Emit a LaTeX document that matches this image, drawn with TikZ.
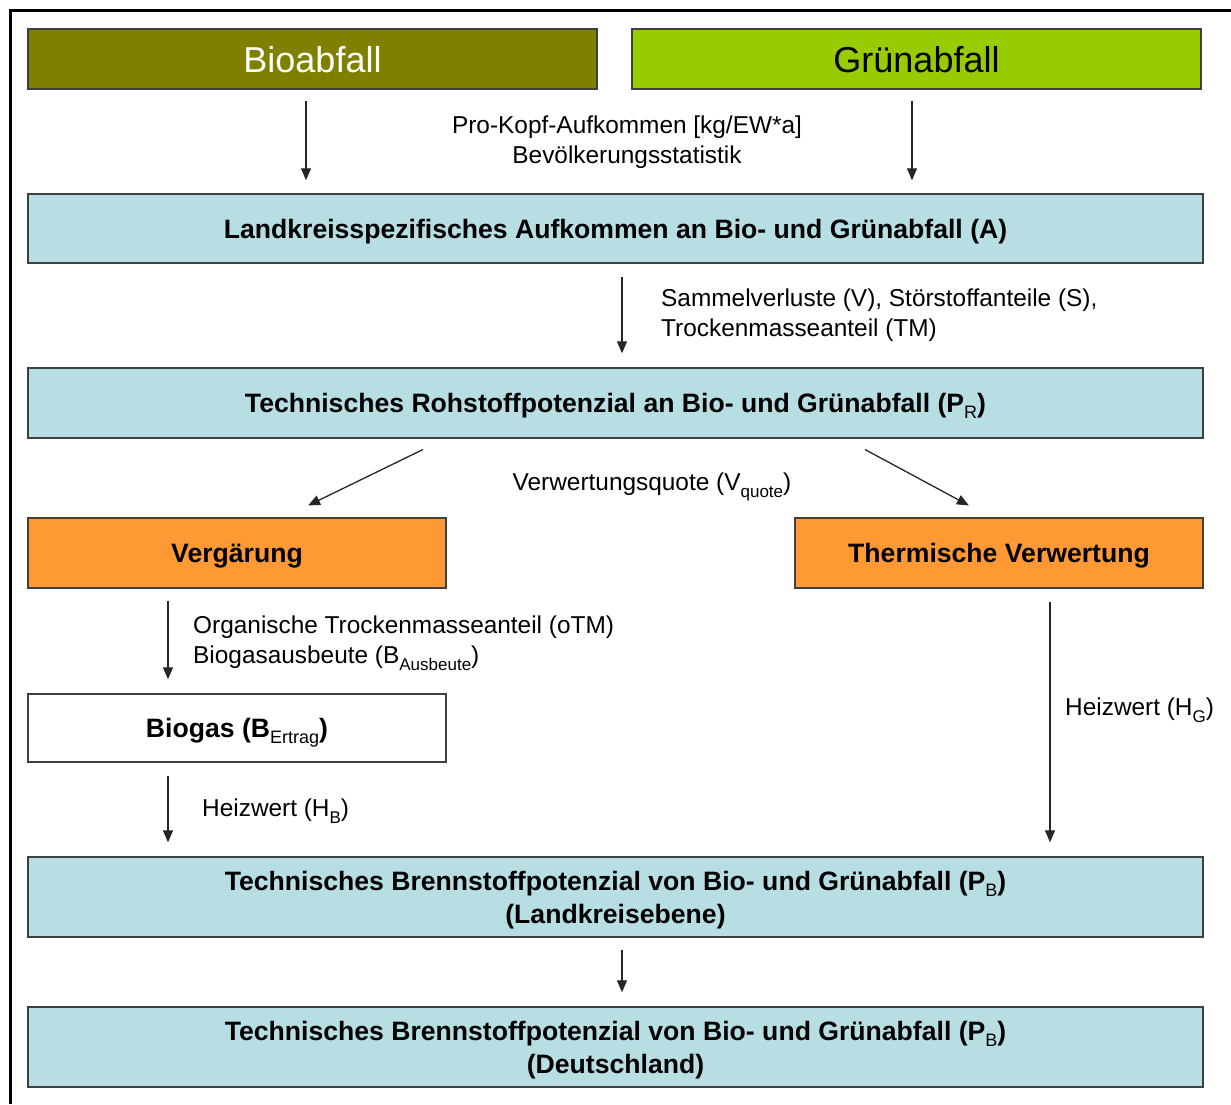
\documentclass[tikz,border=0pt]{standalone}
\usepackage{fontspec}
\setmainfont{Liberation Sans}
\usetikzlibrary{arrows.meta}
\definecolor{olivebox}{HTML}{808000}
\definecolor{greenbox}{HTML}{99CC00}
\definecolor{bluebox}{HTML}{B7DEE3}
\definecolor{orangebox}{HTML}{FF9933}
\definecolor{boxline}{HTML}{404040}
\definecolor{arrline}{HTML}{262626}
\newcommand\lsub[1]{\raisebox{-7pt}{\fontsize{17}{17}\selectfont\mdseries #1}}
\newcommand\bsub[1]{\raisebox{-6pt}{\fontsize{18}{18}\selectfont\mdseries #1}}
\tikzset{
  box/.style={draw=boxline, line width=1.4pt, inner sep=0pt, align=center,
    text depth=0pt, font=\fontsize{26.6}{33}\selectfont\bfseries},
  bigbox/.style={box, minimum width=1175pt},
  topbox/.style={draw=boxline, line width=1.4pt, inner sep=0pt, minimum width=569pt,
    minimum height=60pt, text depth=0pt, font=\fontsize{36}{40}\selectfont},
  lbl/.style={inner sep=0pt, font=\fontsize{24.4}{30}\selectfont},
  arr/.style={-{Triangle[length=12pt,width=10pt]}, line width=1.3pt, draw=arrline},
}
\begin{document}
\begin{tikzpicture}[x=1pt,y=-1pt]
\useasboundingbox (0,0) rectangle (1231,1104);
\draw[line width=3pt] (10,1104) -- (10,10) -- (1231,10);

% boxes
\node[topbox, fill=olivebox, text=white] (bio) at (312.5,59) {Bioabfall};
\node[topbox, fill=greenbox] (gruen) at (916.5,59) {Grünabfall};
\node[bigbox, fill=bluebox, minimum height=69pt] (A) at (615.5,228.5)
  {Landkreisspezifisches Aufkommen an Bio- und Grünabfall (A)};
\node[bigbox, fill=bluebox, minimum height=70pt] (PR) at (615.5,403)
  {Technisches Rohstoffpotenzial an Bio- und Grünabfall (P\bsub{R})};
\node[box, fill=orangebox, minimum width=418pt, minimum height=70pt] (verg) at (237,553)
  {Vergärung};
\node[box, fill=orangebox, minimum width=408pt, minimum height=70pt] (therm) at (999,553)
  {Thermische Verwertung};
\node[box, fill=white, minimum width=418pt, minimum height=68pt] (biogas) at (237,728)
  {Biogas (B\bsub{Ertrag})};
\node[bigbox, fill=bluebox, minimum height=80pt] (PB1) at (615.5,897)
  {Technisches Brennstoffpotenzial von Bio- und Grünabfall (P\bsub{B})\\(Landkreisebene)};
\node[bigbox, fill=bluebox, minimum height=80pt] (PB2) at (615.5,1047)
  {Technisches Brennstoffpotenzial von Bio- und Grünabfall (P\bsub{B})\\(Deutschland)};

% labels
\node[lbl, align=center] (l1) at (627,142)
  {Pro-Kopf-Aufkommen [kg/EW*a]\\Bevölkerungsstatistik};
\node[lbl, align=left, anchor=west] (l2) at (661,315)
  {Sammelverluste (V), Störstoffanteile (S),\\Trockenmasseanteil (TM)};
\node[lbl] (l3) at (652,487) {Verwertungsquote (V\lsub{quote})};
\node[lbl, align=left, anchor=west] (l4) at (193,643.5)
  {Organische Trockenmasseanteil (oTM)\\Biogasausbeute (B\lsub{Ausbeute})};
\node[lbl, anchor=west] (l5) at (202,811) {Heizwert (H\lsub{B})};
\node[lbl, anchor=west] (l6) at (1065,710) {Heizwert (H\lsub{G})};

% helper x positions
\coordinate (x306) at (306,0);
\coordinate (x912) at (912,0);
\coordinate (x622) at (622,0);
\coordinate (x168) at (168,0);
\coordinate (x1050) at (1050,0);
\coordinate (xd1a) at (445.2,0);
\coordinate (xd1b) at (283.8,0);
\coordinate (xd2a) at (844.9,0);
\coordinate (xd2b) at (990.9,0);

% connectors
\draw[arr, shorten <=11pt, shorten >=13pt] (bio.south -| x306) -- (A.north -| x306);
\draw[arr, shorten <=11pt, shorten >=13pt] (gruen.south -| x912) -- (A.north -| x912);
\draw[arr, shorten <=13pt, shorten >=14pt] (A.south -| x622) -- (PR.north -| x622);
\draw[arr, shorten <=24.8pt, shorten >=27pt] (PR.south -| xd1a) -- (verg.north -| xd1b);
\draw[arr, shorten <=22.9pt, shorten >=25pt] (PR.south -| xd2a) -- (therm.north -| xd2b);
\draw[arr, shorten <=12pt, shorten >=14pt] (verg.south -| x168) -- (biogas.north -| x168);
\draw[arr, shorten <=13pt, shorten >=14pt] (biogas.south -| x168) -- (PB1.north -| x168);
\draw[arr, shorten <=13pt, shorten >=14pt] (therm.south -| x1050) -- (PB1.north -| x1050);
\draw[arr, shorten <=12pt, shorten >=14pt] (PB1.south -| x622) -- (PB2.north -| x622);
\end{tikzpicture}
\end{document}
